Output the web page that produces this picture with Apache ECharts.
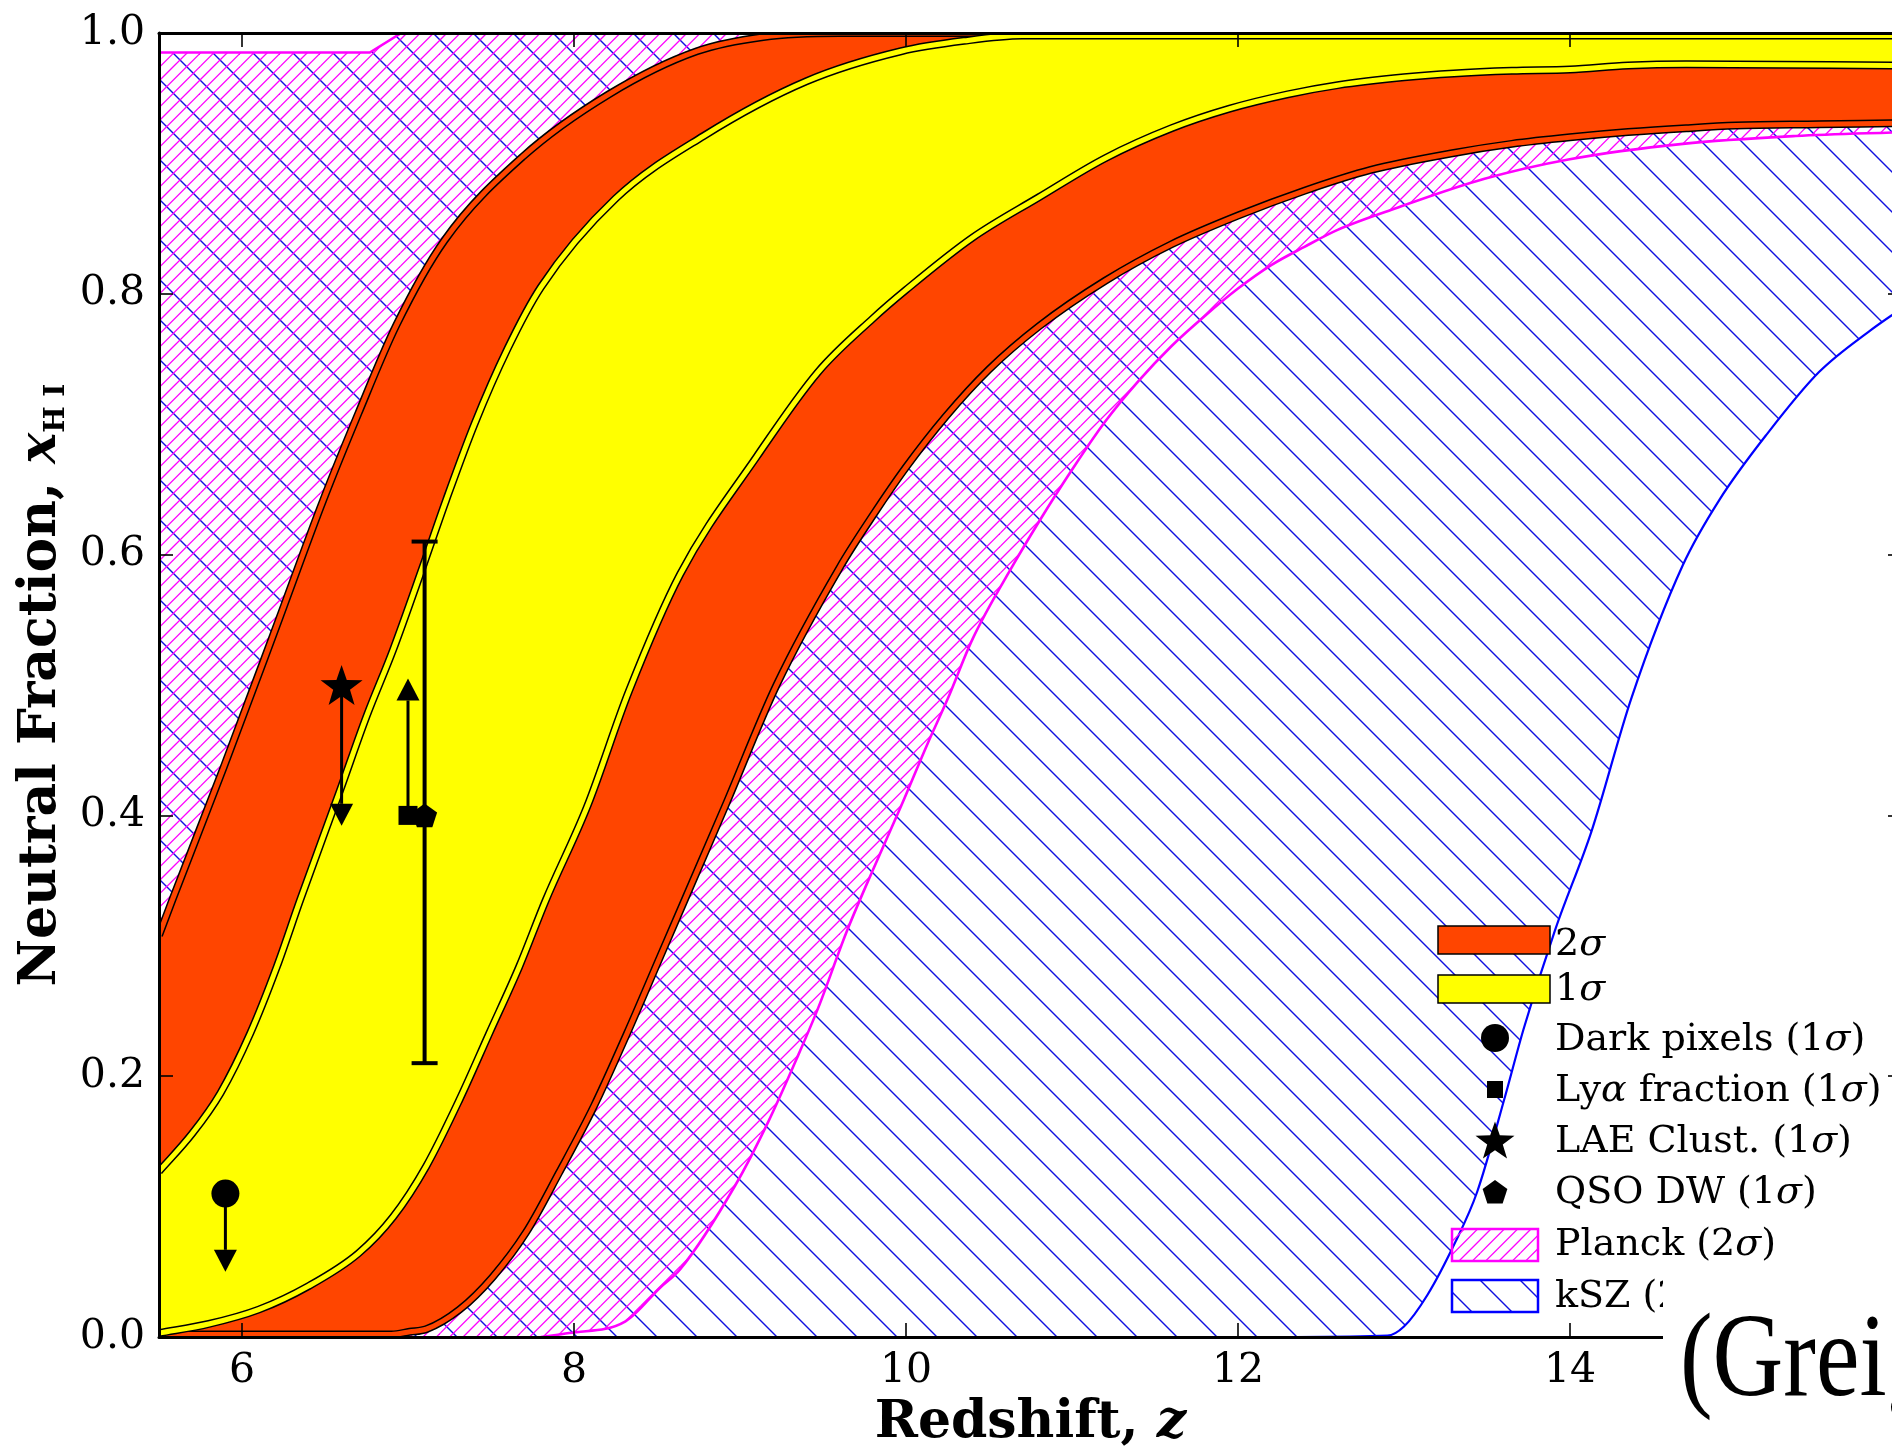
<!DOCTYPE html>
<html>
<head>
<meta charset="utf-8">
<script src="https://cdn.jsdelivr.net/npm/echarts@6/dist/echarts.min.js"></script>
<style>
html,body{margin:0;padding:0;background:#fff;}
#chart{width:1892px;height:1446px;}
</style>
</head>
<body>
<div id="chart"></div>
<script>
// ---------------- DATA (redshift z, neutral fraction x_HI) ----------------
const sigma2Upper = [[5.5,0.308],[5.58,0.335],[5.89,0.437],[6.19,0.539],[6.49,0.642],[6.7,0.708],[6.93,0.776],[7.22,0.841],[7.69,0.905],[8.21,0.953],[8.74,0.986],[9.14,0.997],[9.6,1.0],[16.0,1.0]];
const sigma2Lower = [[5.5,0.002],[6.9,0.002],[7.01,0.004],[7.11,0.006],[7.31,0.021],[7.51,0.046],[7.71,0.080],[7.91,0.126],[8.12,0.177],[8.32,0.233],[8.52,0.292],[8.91,0.407],[9.22,0.500],[9.6,0.590],[9.8,0.630],[10.0,0.667],[10.24,0.706],[10.5,0.742],[10.8,0.775],[11.2,0.810],[11.6,0.838],[12.0,0.860],[12.4,0.879],[12.8,0.895],[13.3,0.908],[13.65,0.915],[14.0,0.920],[14.35,0.924],[14.7,0.927],[15.0,0.929],[15.5,0.930],[16.0,0.931]];
const sigma1Upper = [[5.5,0.127],[5.7,0.156],[5.87,0.187],[6.05,0.233],[6.21,0.284],[6.35,0.335],[6.59,0.419],[6.75,0.476],[6.91,0.527],[7.09,0.591],[7.23,0.642],[7.4,0.700],[7.6,0.758],[7.8,0.805],[8.25,0.873],[8.78,0.921],[9.4,0.963],[9.97,0.986],[10.35,0.994],[10.7,0.998],[16.0,0.998]];
const sigma1Lower = [[5.5,0.003],[5.8,0.010],[6.1,0.021],[6.4,0.039],[6.7,0.064],[6.91,0.092],[7.11,0.131],[7.31,0.182],[7.49,0.233],[7.67,0.284],[7.83,0.335],[8.08,0.407],[8.33,0.495],[8.64,0.585],[9.1,0.675],[9.47,0.740],[9.8,0.781],[10.0,0.803],[10.4,0.843],[10.8,0.874],[11.2,0.904],[11.6,0.927],[11.95,0.942],[12.3,0.953],[12.6,0.960],[13.0,0.966],[13.3,0.969],[13.65,0.971],[14.0,0.972],[14.35,0.975],[14.7,0.976],[16.0,0.975]];
const planckLower = [[7.8,0.0],[7.97,0.003],[8.31,0.012],[8.52,0.038],[8.64,0.052],[8.97,0.116],[9.17,0.165],[9.34,0.213],[9.47,0.252],[9.64,0.310],[9.8,0.358],[9.97,0.407],[10.13,0.455],[10.25,0.489],[10.4,0.535],[10.65,0.593],[10.8,0.625],[11.0,0.665],[11.2,0.702],[11.4,0.733],[11.6,0.760],[11.8,0.783],[12.0,0.804],[12.2,0.822],[12.4,0.836],[12.6,0.849],[12.96,0.866],[13.48,0.888],[13.99,0.903],[14.68,0.915],[15.36,0.921],[16.0,0.924]];
const planckUpper = [[5.5,0.985],[6.77,0.985],[6.96,1.0],[16.0,1.0]];
const kszLower = [[12.3,0.0],[12.9,0.001],[13.0,0.008],[13.14,0.032],[13.31,0.073],[13.44,0.111],[13.61,0.185],[13.72,0.236],[13.91,0.312],[14.13,0.388],[14.37,0.490],[14.68,0.592],[14.9,0.642],[15.19,0.693],[15.5,0.740],[15.81,0.772],[16.0,0.789]];

// observational constraints: [z, x_HI, limit end]
const darkPixels = [[5.9, 0.11, 0.05]];      // upper limit
const lyaFraction = [[7.0, 0.40, 0.505]];    // lower limit
const laeClust = [[6.6, 0.50, 0.392]];       // upper limit
const qsoDW = [[7.1, 0.40, 0.21, 0.61]];     // value, low, high

const xTicks = [6, 8, 10, 12, 14, 16];
const xTickLabels = [6, 8, 10, 12, 14];

// ---------------- helpers ----------------
function makeHatch(color, n, dir, lw) {
  const S = 40;
  const cv = document.createElement('canvas');
  cv.width = S; cv.height = S;
  const g = cv.getContext('2d');
  g.strokeStyle = color; g.lineWidth = lw;
  for (let i = -n; i <= 2 * n; i++) {
    const k = i * S / n;
    g.beginPath();
    if (dir === '/') { g.moveTo(-2, k + 2); g.lineTo(S + 2, k - S - 2); }
    else { g.moveTo(-2, -2 - k); g.lineTo(S + 2, S + 2 - k); }
    g.stroke();
  }
  return cv;
}
const planckHatch = { image: makeHatch('#ff00ff', 3, '/', 1.3), repeat: 'repeat' };
const kszHatch = { image: makeHatch('#1010e0', 1, '\\', 1.4), repeat: 'repeat' };

// monotone cubic (Fritsch-Carlson) bezier segments in data space
function monoSegs(pts) {
  const n = pts.length, h = [], d = [], m = new Array(n);
  for (let i = 0; i < n - 1; i++) { h[i] = pts[i+1][0] - pts[i][0]; d[i] = (pts[i+1][1] - pts[i][1]) / h[i]; }
  m[0] = d[0]; m[n-1] = d[n-2];
  for (let i = 1; i < n - 1; i++) m[i] = (d[i-1] * d[i] <= 0) ? 0 : (d[i-1] + d[i]) / 2;
  for (let i = 0; i < n - 1; i++) {
    if (d[i] === 0) { m[i] = 0; m[i+1] = 0; continue; }
    const a = m[i] / d[i], b = m[i+1] / d[i], s = a * a + b * b;
    if (s > 9) { const t = 3 / Math.sqrt(s); m[i] = t * a * d[i]; m[i+1] = t * b * d[i]; }
  }
  const segs = [];
  for (let i = 0; i < n - 1; i++) {
    const p1 = pts[i], p2 = pts[i+1], hh = h[i];
    segs.push([p1, [p1[0] + hh/3, p1[1] + m[i]*hh/3], [p2[0] - hh/3, p2[1] - m[i+1]*hh/3], p2]);
  }
  return segs;
}
function curvePath(api, pts, reverse, start) {
  let segs = monoSegs(pts);
  if (reverse) segs = segs.slice().reverse().map(g => [g[3], g[2], g[1], g[0]]);
  let s = '';
  segs.forEach((g, k) => {
    const P = g.map(p => api.coord(p));
    if (k === 0) s += (start ? 'M' : 'L') + P[0][0] + ' ' + P[0][1] + ' ';
    s += 'C' + P[1][0] + ' ' + P[1][1] + ' ' + P[2][0] + ' ' + P[2][1] + ' ' + P[3][0] + ' ' + P[3][1] + ' ';
  });
  return s;
}
function linePath(api, pts, start) {
  let s = '';
  pts.forEach((p, k) => { const c = api.coord(p); s += ((k === 0 && start) ? 'M' : 'L') + c[0] + ' ' + c[1] + ' '; });
  return s;
}

function regionSeries(name, data, z, builder) {
  return {
    name: name, type: 'custom', coordinateSystem: 'cartesian2d', data: data, clip: true, silent: true, z: z,
    renderItem: function (params, api) {
      if (params.dataIndex !== 0) return null;
      return builder(api);
    }
  };
}
function doubleEdge(api, pts, fillColor) {
  const d = curvePath(api, pts, false, true);
  return {
    type: 'group', children: [
      { type: 'path', shape: { pathData: d }, style: { fill: null, stroke: '#000', lineWidth: 8 } },
      { type: 'path', shape: { pathData: d }, style: { fill: null, stroke: fillColor, lineWidth: 5 } }
    ]
  };
}

const RED = '#ff4500', YEL = '#ffff00';

const series = [
  regionSeries('kSZ (2σ)', kszLower, 1, function (api) {
    const d = linePath(api, [[5.5, 0], [12.3, 0]], true) + curvePath(api, kszLower, false, false) +
      linePath(api, planckUpper.slice().reverse(), false) + 'Z';
    return { type: 'path', shape: { pathData: d }, style: { fill: kszHatch, stroke: null } };
  }),
  regionSeries('Planck (2σ)', planckLower, 2, function (api) {
    const d = linePath(api, [[5.5, 0], [7.8, 0]], true) + curvePath(api, planckLower, false, false) +
      linePath(api, planckUpper.slice().reverse(), false) + 'Z';
    return { type: 'path', shape: { pathData: d }, style: { fill: planckHatch, stroke: null } };
  }),
  regionSeries('kSZ edge', kszLower, 3, function (api) {
    return { type: 'path', shape: { pathData: curvePath(api, kszLower, false, true) }, style: { fill: null, stroke: '#0000ff', lineWidth: 2.2 } };
  }),
  regionSeries('Planck edge', planckLower, 3, function (api) {
    return {
      type: 'group', children: [
        { type: 'path', shape: { pathData: curvePath(api, planckLower, false, true) }, style: { fill: null, stroke: '#ff00ff', lineWidth: 2.6 } },
        { type: 'path', shape: { pathData: linePath(api, planckUpper, true) }, style: { fill: null, stroke: '#ff00ff', lineWidth: 2.6 } }
      ]
    };
  }),
  regionSeries('2σ', sigma2Upper, 4, function (api) {
    const d = curvePath(api, sigma2Upper, false, true) + curvePath(api, sigma2Lower, true, false) + 'Z';
    return { type: 'path', shape: { pathData: d }, style: { fill: RED, stroke: null } };
  }),
  regionSeries('2σ upper edge', sigma2Upper, 5, function (api) { return doubleEdge(api, sigma2Upper, RED); }),
  regionSeries('2σ lower edge', sigma2Lower, 5, function (api) { return doubleEdge(api, sigma2Lower, RED); }),
  regionSeries('1σ', sigma1Upper, 6, function (api) {
    const d = curvePath(api, sigma1Upper, false, true) + curvePath(api, sigma1Lower, true, false) + 'Z';
    return { type: 'path', shape: { pathData: d }, style: { fill: YEL, stroke: null } };
  }),
  regionSeries('1σ upper edge', sigma1Upper, 7, function (api) { return doubleEdge(api, sigma1Upper, YEL); }),
  regionSeries('1σ lower edge', sigma1Lower, 7, function (api) { return doubleEdge(api, sigma1Lower, YEL); }),
];

function arrowItem(params, api) {
  const z = api.value(0), v = api.value(1), e = api.value(2);
  const p0 = api.coord([z, v]), p1 = api.coord([z, e]);
  const dir = p1[1] > p0[1] ? 1 : -1;
  const hl = 22, hw = 11.5;
  return {
    type: 'group', children: [
      { type: 'line', shape: { x1: p0[0], y1: p0[1], x2: p1[0], y2: p1[1] - dir * hl }, style: { stroke: '#000', lineWidth: 3 } },
      { type: 'polygon', shape: { points: [[p1[0], p1[1]], [p1[0] - hw, p1[1] - dir * hl], [p1[0] + hw, p1[1] - dir * hl]] }, style: { fill: '#000' } }
    ]
  };
}
[['Dark pixels arrow', darkPixels], ['Lya arrow', lyaFraction], ['LAE arrow', laeClust]].forEach(function (a) {
  series.push({ name: a[0], type: 'custom', coordinateSystem: 'cartesian2d', data: a[1], silent: true, z: 8, renderItem: arrowItem });
});
series.push({
  name: 'QSO DW error', type: 'custom', coordinateSystem: 'cartesian2d', data: qsoDW, silent: true, z: 8,
  renderItem: function (params, api) {
    const z = api.value(0);
    const lo = api.coord([z, api.value(2)]), hi = api.coord([z, api.value(3)]);
    const cw = 13;
    return {
      type: 'group', children: [
        { type: 'line', shape: { x1: lo[0], y1: lo[1], x2: hi[0], y2: hi[1] }, style: { stroke: '#000', lineWidth: 4 } },
        { type: 'line', shape: { x1: lo[0] - cw, y1: lo[1], x2: lo[0] + cw, y2: lo[1] }, style: { stroke: '#000', lineWidth: 4 } },
        { type: 'line', shape: { x1: hi[0] - cw, y1: hi[1], x2: hi[0] + cw, y2: hi[1] }, style: { stroke: '#000', lineWidth: 4 } }
      ]
    };
  }
});

const STAR = 'path://M0,-10L2.35,-3.24L9.51,-3.09L3.8,1.24L5.88,8.09L0,4L-5.88,8.09L-3.8,1.24L-9.51,-3.09L-2.35,-3.24Z';
const PENT = 'path://M0,-10L9.51,-3.09L5.88,8.09L-5.88,8.09L-9.51,-3.09Z';
function markerSeries(name, data, symbol, size) {
  return {
    name: name, type: 'scatter', data: data.map(d => [d[0], d[1]]), symbol: symbol, symbolSize: size, symbolKeepAspect: true,
    itemStyle: { color: '#000', opacity: 1 }, silent: true, z: 9
  };
}
series.push(markerSeries('Dark pixels (1σ)', darkPixels, 'circle', 28));
series.push(markerSeries('Lyα fraction (1σ)', lyaFraction, 'rect', 19));
series.push(markerSeries('LAE Clust. (1σ)', laeClust, STAR, 42));
series.push(markerSeries('QSO DW (1σ)', qsoDW, PENT, 25));

// ---------------- legend (graphic) ----------------
const SERIF = 'DejaVu Serif';
const LFS = 38;
const legendRich = {
  n: { fontFamily: SERIF, fontSize: LFS, fill: '#000', color: '#000' },
  i: { fontFamily: SERIF, fontSize: LFS, fontStyle: 'italic', fill: '#000', color: '#000' }
};
const LX = 1555;
function legText(t, y) {
  return { type: 'text', x: LX, y: y, z: 100, style: { text: t, rich: legendRich, fontFamily: SERIF, fontSize: LFS, fill: '#000', verticalAlign: 'middle', align: 'left' } };
}
function iconPoints(unit, cx, cy, sc) {
  return unit.map(p => [cx + p[0] * sc, cy + p[1] * sc]);
}
const starUnit = [[0,-10],[2.35,-3.24],[9.51,-3.09],[3.8,1.24],[5.88,8.09],[0,4],[-5.88,8.09],[-3.8,1.24],[-9.51,-3.09],[-2.35,-3.24]];
const pentUnit = [[0,-10],[9.51,-3.09],[5.88,8.09],[-5.88,8.09],[-9.51,-3.09]];
const graphics = [
  { type: 'rect', z: 100, shape: { x: 1438, y: 926, width: 112, height: 28 }, style: { fill: RED, stroke: '#000', lineWidth: 1.5 } },
  { type: 'rect', z: 100, shape: { x: 1438, y: 975, width: 112, height: 28 }, style: { fill: YEL, stroke: '#000', lineWidth: 1.5 } },
  { type: 'circle', z: 100, shape: { cx: 1495, cy: 1038, r: 14 }, style: { fill: '#000' } },
  { type: 'rect', z: 100, shape: { x: 1487, y: 1081, width: 16, height: 17 }, style: { fill: '#000' } },
  { type: 'polygon', z: 100, shape: { points: iconPoints(starUnit, 1495, 1142, 2.05) }, style: { fill: '#000' } },
  { type: 'polygon', z: 100, shape: { points: iconPoints(pentUnit, 1495, 1193, 1.3) }, style: { fill: '#000' } },
  { type: 'rect', z: 100, shape: { x: 1452, y: 1229, width: 86, height: 32 }, style: { fill: planckHatch, stroke: '#ff00ff', lineWidth: 2.5 } },
  { type: 'rect', z: 100, shape: { x: 1452, y: 1280, width: 86, height: 32 }, style: { fill: kszHatch, stroke: '#0000ff', lineWidth: 2.5 } },
  legText('{n|2}{i|σ}', 945),
  legText('{n|1}{i|σ}', 990),
  legText('{n|Dark pixels (1}{i|σ}{n|)}', 1040),
  legText('{n|Ly}{i|α}{n| fraction (1}{i|σ}{n|)}', 1091),
  legText('{n|LAE Clust. (1}{i|σ}{n|)}', 1142),
  legText('{n|QSO DW (1}{i|σ}{n|)}', 1193),
  legText('{n|Planck (2}{i|σ}{n|)}', 1245),
  legText('{n|kSZ (2}{i|σ}{n|)}', 1297),
  { type: 'rect', z: 110, shape: { x: 1663, y: 1264, width: 240, height: 190 }, style: { fill: '#fff' } },
  { type: 'text', z: 111, x: 1680, y: 1364, scaleX: 0.83, scaleY: 1, style: { text: '(Greig', fontFamily: 'Liberation Serif', fontSize: 118, fill: '#000', verticalAlign: 'middle', align: 'left' } }
];

// ---------------- axes ----------------
const axisLineStyle = { color: '#000', width: 3 };
const tickStyle = { color: '#000', width: 1.6 };
const tickFont = { color: '#000', fontFamily: SERIF, fontSize: 41 };
const TFS = 52;

const option = {
  animation: false,
  backgroundColor: '#ffffff',
  grid: { left: 159, right: -10, top: 33, bottom: 109, containLabel: false, outerBoundsMode: 'none' },
  xAxis: [
    {
      type: 'value', min: 5.5, max: 16, position: 'bottom', z: 20,
      name: '{b|Redshift, }{i|z}', nameLocation: 'middle', nameGap: 60, nameMoveOverlap: false,
      nameTextStyle: {
        rich: {
          b: { fontFamily: SERIF, fontWeight: 'bold', fontSize: TFS, color: '#000' },
          i: { fontFamily: SERIF, fontWeight: 'bold', fontStyle: 'italic', fontSize: TFS, color: '#000' }
        }
      },
      axisLine: { show: true, onZero: false, lineStyle: axisLineStyle },
      axisTick: { show: true, inside: true, length: 14, customValues: xTicks, lineStyle: tickStyle },
      axisLabel: Object.assign({ show: true, margin: 14, customValues: xTickLabels }, tickFont),
      splitLine: { show: false }
    },
    {
      type: 'value', min: 5.5, max: 16, position: 'top', z: 20,
      axisLine: { show: true, onZero: false, lineStyle: axisLineStyle },
      axisTick: { show: true, inside: true, length: 14, customValues: xTicks, lineStyle: tickStyle },
      axisLabel: { show: false },
      splitLine: { show: false }
    }
  ],
  yAxis: [
    {
      type: 'value', min: 0, max: 1, interval: 0.2, position: 'left', z: 20,
      name: '{b|Neutral Fraction, }{i|x}{s|H I}', nameLocation: 'middle', nameGap: 88, nameMoveOverlap: false,
      nameTextStyle: {
        rich: {
          b: { fontFamily: SERIF, fontWeight: 'bold', fontSize: TFS, lineHeight: 60, color: '#000' },
          i: { fontFamily: SERIF, fontWeight: 'bold', fontStyle: 'italic', fontSize: TFS, lineHeight: 60, color: '#000' },
          s: { fontFamily: SERIF, fontWeight: 'bold', fontSize: 28, lineHeight: 32, verticalAlign: 'bottom', color: '#000' }
        }
      },
      axisLine: { show: true, onZero: false, lineStyle: axisLineStyle },
      axisTick: { show: true, inside: true, length: 14, lineStyle: tickStyle },
      axisLabel: Object.assign({ show: true, margin: 14, formatter: function (v) { return v.toFixed(1); } }, tickFont),
      splitLine: { show: false }
    },
    {
      type: 'value', min: 0, max: 1, interval: 0.2, position: 'right', z: 20,
      axisLine: { show: true, onZero: false, lineStyle: axisLineStyle },
      axisTick: { show: true, inside: true, length: 14, lineStyle: tickStyle },
      axisLabel: { show: false },
      splitLine: { show: false }
    }
  ],
  series: series,
  graphic: { elements: graphics }
};

const chart = echarts.init(document.getElementById('chart'), null, { renderer: 'canvas', width: 1892, height: 1446 });
chart.setOption(option);
</script>
</body>
</html>
